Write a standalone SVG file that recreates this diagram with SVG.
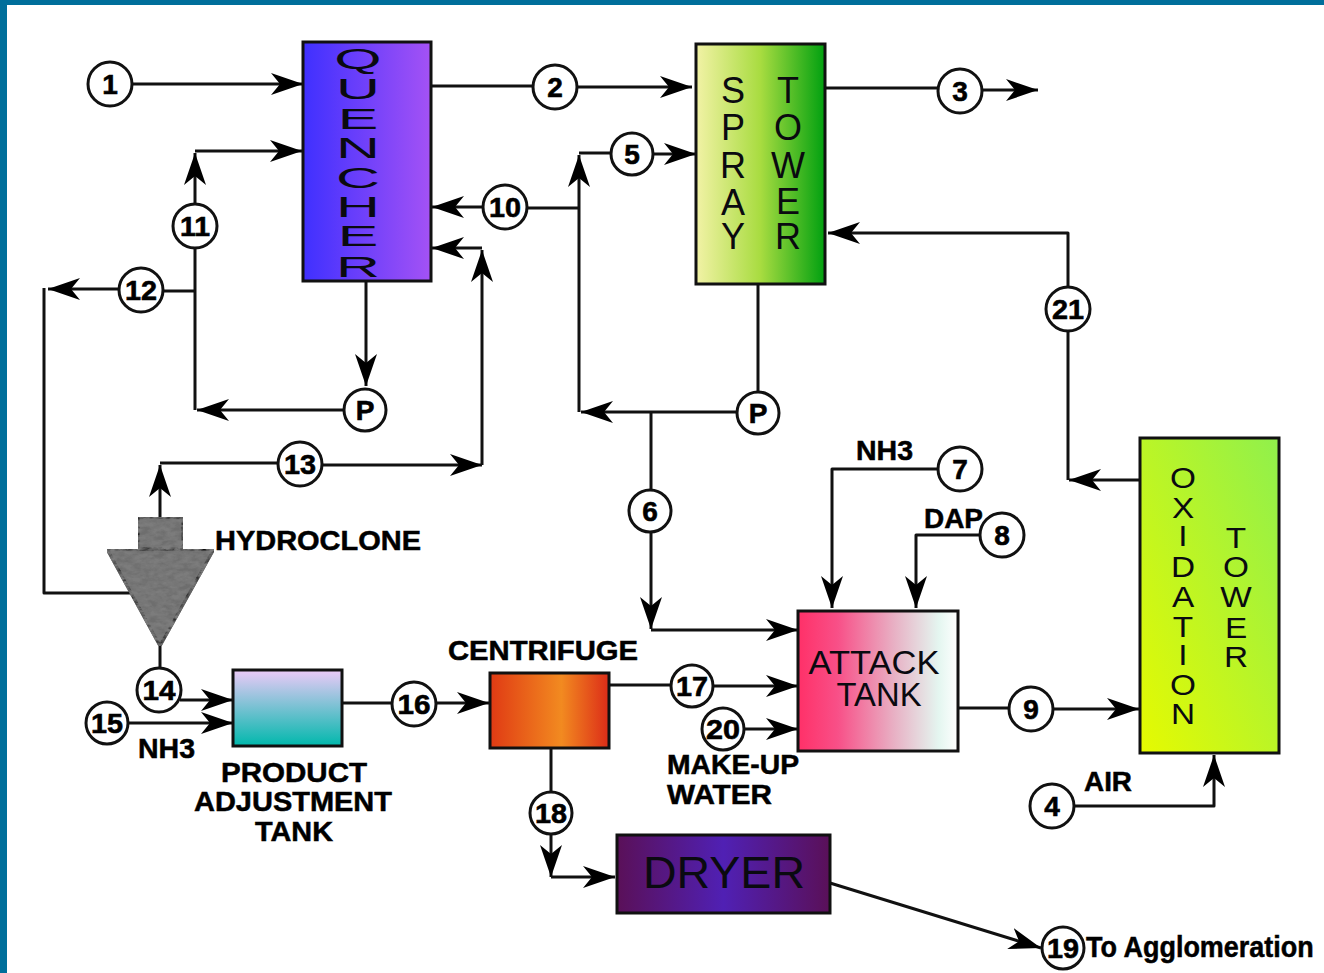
<svg xmlns="http://www.w3.org/2000/svg" width="1324" height="973" viewBox="0 0 1324 973">
<style>
.n{fill:#fff;stroke:#111;stroke-width:3}
.nt{font:bold 28px "Liberation Sans",Arial,sans-serif;fill:#000;stroke:#000;stroke-width:.6;text-anchor:middle}
.c{fill:none;stroke:#111;stroke-width:3;stroke-linejoin:round}
.a{marker-end:url(#arr)}
.b{stroke:#111;stroke-width:3}
.l{font:bold 27px "Liberation Sans",Arial,sans-serif;fill:#000;stroke:#000;stroke-width:.5}
.u{font-family:"Liberation Sans",Arial,sans-serif;fill:#0a0a10;text-anchor:middle}
.s29{font-size:29px}
.s36{font-size:36px}
</style>
<defs>
<marker id="arr" markerUnits="userSpaceOnUse" markerWidth="36" markerHeight="26" refX="32" refY="12" orient="auto">
<path d="M0,1 L32,12 L0,23 L9,12 Z" fill="#000"/>
</marker>
<linearGradient id="gq"><stop offset="0" stop-color="#3f30ff"/><stop offset="1" stop-color="#a452f5"/></linearGradient>
<linearGradient id="gs"><stop offset="0" stop-color="#f2f2a6"/><stop offset=".5" stop-color="#a8dc40"/><stop offset="1" stop-color="#00a010"/></linearGradient>
<linearGradient id="go" x1="0" y1="1" x2="1" y2="0"><stop offset="0" stop-color="#e6fa00"/><stop offset="1" stop-color="#90f04c"/></linearGradient>
<linearGradient id="ga"><stop offset="0" stop-color="#ff3068"/><stop offset=".25" stop-color="#f85088"/><stop offset=".6" stop-color="#e8b0c4"/><stop offset=".88" stop-color="#e4f6f0"/><stop offset="1" stop-color="#fff"/></linearGradient>
<linearGradient id="gp" x2="0" y2="1"><stop offset="0" stop-color="#eccaf8"/><stop offset="1" stop-color="#00b8ac"/></linearGradient>
<linearGradient id="gc"><stop offset="0" stop-color="#e03a14"/><stop offset=".6" stop-color="#f28a20"/><stop offset="1" stop-color="#dc2c18"/></linearGradient>
<linearGradient id="gd"><stop offset="0" stop-color="#5a1058"/><stop offset=".5" stop-color="#5020b4"/><stop offset="1" stop-color="#5a1058"/></linearGradient>
<filter id="tex" x="0" y="0" width="100%" height="100%"><feTurbulence type="fractalNoise" baseFrequency=".12 .22" numOctaves="3" seed="4"/><feColorMatrix values="0 0 0 0 .2  0 0 0 0 .2  0 0 0 0 .2  1.6 1.6 0 0 -1"/><feComposite in2="SourceGraphic" operator="in" result="t"/><feMerge><feMergeNode in="SourceGraphic"/><feMergeNode in="t"/></feMerge></filter>
</defs>
<rect width="1324" height="973" fill="#fff"/>
<rect width="1324" height="5" fill="#006f9b"/>
<rect width="7" height="973" fill="#006f9b"/>

<g id="connectors">
<path class="c a" d="M132,84H303"/>
<path class="c" d="M431,86H533"/><path class="c a" d="M577,87H692"/>
<path class="c" d="M825,88H938"/><path class="c a" d="M982,90H1038"/>
<path class="c a" d="M579,412V155"/><path class="c" d="M579,153H610"/><path class="c a" d="M654,154H696"/>
<path class="c" d="M579,208H527"/><path class="c a" d="M483,207H432"/>
<path class="c a" d="M366,281V386"/>
<path class="c a" d="M195,204V153"/><path class="c a" d="M195,151H302"/>
<path class="c" d="M195,248V410"/><path class="c a" d="M343,410H197"/>
<path class="c" d="M195,291H163"/><path class="c a" d="M119,289H48"/>
<path class="c" d="M44,288V593H135"/>
<path class="c a" d="M160,517V465"/><path class="c" d="M160,463H278"/><path class="c a" d="M322,465H482"/>
<path class="c a" d="M482,465V250"/><path class="c a" d="M482,248H432"/>
<path class="c" d="M758,284V391"/><path class="c a" d="M736,412H581"/>
<path class="c" d="M651,413V489"/><path class="c a" d="M651,533V629"/><path class="c a" d="M651,630H798"/>
<path class="c a" d="M938,469H832V608"/>
<path class="c a" d="M980,535H916V608"/>
<path class="c a" d="M1140,480H1069"/><path class="c" d="M1068,480V331"/>
<path class="c a" d="M1068,287V233H828"/>
<path class="c" d="M958,708H1009"/><path class="c a" d="M1053,709H1139"/>
<path class="c a" d="M1074,806H1214V755"/>
<path class="c" d="M160,646V668"/><path class="c a" d="M180,700H233"/><path class="c a" d="M129,723H233"/>
<path class="c" d="M342,703H392"/><path class="c a" d="M436,703H489"/>
<path class="c" d="M609,685H670"/><path class="c a" d="M714,686H798"/>
<path class="c a" d="M745,729H798"/>
<path class="c" d="M551,748V791"/><path class="c a" d="M551,835V877"/><path class="c a" d="M551,877H615"/>
<path class="c a" d="M830,883L1041,948"/>
</g>

<g id="quencher"><rect class="b" x="303" y="42" width="128" height="239" fill="url(#gq)"/>
<g transform="translate(358,0) scale(2.1,1)">
<text class="u s29" x="0" y="69">Q</text><text class="u s29" x="0" y="99">U</text><text class="u s29" x="0" y="129">E</text><text class="u s29" x="0" y="158">N</text><text class="u s29" x="0" y="188">C</text><text class="u s29" x="0" y="217">H</text><text class="u s29" x="0" y="246">E</text><text class="u s29" x="0" y="277">R</text>
</g></g>

<g id="spray-tower"><rect class="b" x="696" y="44" width="129" height="240" fill="url(#gs)"/>
<text class="u s36" x="733" y="103">S</text><text class="u s36" x="733" y="140">P</text><text class="u s36" x="733" y="178">R</text><text class="u s36" x="733" y="215">A</text><text class="u s36" x="733" y="249">Y</text>
<text class="u s36" x="788" y="103">T</text><text class="u s36" x="788" y="140">O</text><text class="u s36" x="788" y="178">W</text><text class="u s36" x="788" y="214">E</text><text class="u s36" x="788" y="249">R</text>
</g>

<g id="oxidation-tower"><rect class="b" x="1140" y="438" width="139" height="315" fill="url(#go)"/>
<g transform="translate(1183,0) scale(1.15,1)">
<text class="u s29" x="0" y="488">O</text><text class="u s29" x="0" y="518">X</text><text class="u s29" x="0" y="546">I</text><text class="u s29" x="0" y="577">D</text><text class="u s29" x="0" y="607">A</text><text class="u s29" x="0" y="637">T</text><text class="u s29" x="0" y="665">I</text><text class="u s29" x="0" y="695">O</text><text class="u s29" x="0" y="724">N</text>
</g>
<g transform="translate(1236,0) scale(1.15,1)">
<text class="u s29" x="0" y="548">T</text><text class="u s29" x="0" y="577">O</text><text class="u s29" x="0" y="607">W</text><text class="u s29" x="0" y="638">E</text><text class="u s29" x="0" y="667">R</text>
</g></g>

<g id="attack-tank"><rect class="b" x="798" y="611" width="160" height="140" fill="url(#ga)"/>
<text class="u" font-size="33" x="874" y="674" textLength="131" lengthAdjust="spacingAndGlyphs">ATTACK</text>
<text class="u" font-size="33" x="879" y="706" textLength="85" lengthAdjust="spacingAndGlyphs">TANK</text></g>

<g id="product-adjustment-tank"><rect class="b" x="233" y="670" width="109" height="76" fill="url(#gp)"/>
<text class="l" x="221" y="782" textLength="146" lengthAdjust="spacingAndGlyphs">PRODUCT</text>
<text class="l" x="194" y="811" textLength="198" lengthAdjust="spacingAndGlyphs">ADJUSTMENT</text>
<text class="l" x="255" y="841" textLength="78" lengthAdjust="spacingAndGlyphs">TANK</text></g>

<g id="centrifuge"><rect class="b" x="490" y="673" width="119" height="75" fill="url(#gc)"/>
<text class="l" x="448" y="660" textLength="190" lengthAdjust="spacingAndGlyphs">CENTRIFUGE</text></g>

<g id="dryer"><rect class="b" x="617" y="835" width="213" height="78" fill="url(#gd)"/>
<text class="u" font-size="45" x="724" y="888" textLength="162" lengthAdjust="spacingAndGlyphs">DRYER</text></g>

<g id="hydroclone">
<rect class="b" x="138" y="517" width="45" height="32" fill="#6e6e6e" filter="url(#tex)"/>
<path class="b" d="M107,549H214L160,646Z" fill="#6e6e6e" filter="url(#tex)"/>
<text class="l" x="215" y="550" textLength="206" lengthAdjust="spacingAndGlyphs">HYDROCLONE</text></g>

<g id="n1"><circle class="n" cx="110" cy="84" r="22"/><text class="nt" x="110" y="94">1</text></g>
<g id="n2"><circle class="n" cx="555" cy="87" r="22"/><text class="nt" x="555" y="97">2</text></g>
<g id="n3"><circle class="n" cx="960" cy="91" r="22"/><text class="nt" x="960" y="101">3</text></g>
<g id="n4"><circle class="n" cx="1052" cy="806" r="22"/><text class="nt" x="1052" y="816">4</text></g>
<g id="n5"><circle class="n" cx="632" cy="154" r="21"/><text class="nt" x="632" y="164">5</text></g>
<g id="n6"><circle class="n" cx="650" cy="511" r="21"/><text class="nt" x="650" y="521">6</text></g>
<g id="n7"><circle class="n" cx="960" cy="469" r="22"/><text class="nt" x="960" y="479">7</text></g>
<g id="n8"><circle class="n" cx="1002" cy="535" r="22"/><text class="nt" x="1002" y="545">8</text></g>
<g id="n9"><circle class="n" cx="1031" cy="709" r="22"/><text class="nt" x="1031" y="719">9</text></g>
<g id="n10"><circle class="n" cx="505" cy="207" r="22"/><text class="nt" x="505" y="217" textLength="32" lengthAdjust="spacingAndGlyphs">10</text></g>
<g id="n11"><circle class="n" cx="195" cy="226" r="22"/><text class="nt" x="195" y="236" textLength="30" lengthAdjust="spacingAndGlyphs">11</text></g>
<g id="n12"><circle class="n" cx="141" cy="290" r="22"/><text class="nt" x="141" y="300" textLength="32" lengthAdjust="spacingAndGlyphs">12</text></g>
<g id="n13"><circle class="n" cx="300" cy="464" r="22"/><text class="nt" x="300" y="474" textLength="32" lengthAdjust="spacingAndGlyphs">13</text></g>
<g id="n14"><circle class="n" cx="159" cy="690" r="22"/><text class="nt" x="159" y="700" textLength="33" lengthAdjust="spacingAndGlyphs">14</text></g>
<g id="n15"><circle class="n" cx="107" cy="723" r="21"/><text class="nt" x="107" y="733" textLength="32" lengthAdjust="spacingAndGlyphs">15</text></g>
<g id="n16"><circle class="n" cx="414" cy="704" r="22"/><text class="nt" x="414" y="714" textLength="33" lengthAdjust="spacingAndGlyphs">16</text></g>
<g id="n17"><circle class="n" cx="692" cy="686" r="21"/><text class="nt" x="692" y="696" textLength="32" lengthAdjust="spacingAndGlyphs">17</text></g>
<g id="n18"><circle class="n" cx="551" cy="813" r="21"/><text class="nt" x="551" y="823" textLength="32" lengthAdjust="spacingAndGlyphs">18</text></g>
<g id="n19"><circle class="n" cx="1063" cy="948" r="21"/><text class="nt" x="1063" y="958" textLength="32" lengthAdjust="spacingAndGlyphs">19</text></g>
<g id="n20"><circle class="n" cx="723" cy="729" r="21"/><text class="nt" x="723" y="739" textLength="34" lengthAdjust="spacingAndGlyphs">20</text></g>
<g id="n21"><circle class="n" cx="1068" cy="309" r="22"/><text class="nt" x="1068" y="319" textLength="32" lengthAdjust="spacingAndGlyphs">21</text></g>
<g id="p1"><circle class="n" cx="365" cy="410" r="21"/><text class="nt" x="365" y="420">P</text></g>
<g id="p2"><circle class="n" cx="758" cy="413" r="21"/><text class="nt" x="758" y="423">P</text></g>

<g id="labels">
<text class="l" x="856" y="460" textLength="57" lengthAdjust="spacingAndGlyphs">NH3</text>
<text class="l" x="924" y="528" textLength="59" lengthAdjust="spacingAndGlyphs">DAP</text>
<text class="l" x="1084" y="791" textLength="48" lengthAdjust="spacingAndGlyphs">AIR</text>
<text class="l" x="138" y="758" textLength="57" lengthAdjust="spacingAndGlyphs">NH3</text>
<text class="l" x="667" y="774" textLength="132" lengthAdjust="spacingAndGlyphs">MAKE-UP</text>
<text class="l" x="667" y="804" textLength="105" lengthAdjust="spacingAndGlyphs">WATER</text>
<text class="l" transform="translate(1086,957) scale(.9,1)" x="0" y="0" style="font-size:30px">To Agglomeration</text>
</g>
</svg>
